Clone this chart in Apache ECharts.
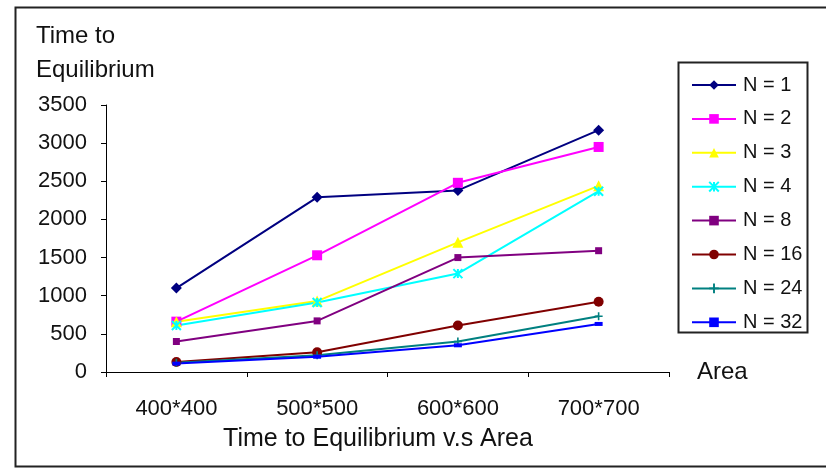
<!DOCTYPE html>
<html>
<head>
<meta charset="utf-8">
<script src="https://cdn.jsdelivr.net/npm/echarts@6/dist/echarts.min.js"></script>
<style>
  html, body { margin: 0; padding: 0; background: #fff; }
  #chart { width: 826px; height: 470px; }
</style>
</head>
<body>
<div id="chart"></div>
<script>
// Grid sizes (categories along the x axis)
const areas = ['400*400', '500*500', '600*600', '700*700'];

// Time to equilibrium for each number of agents N
const n1  = [1100, 2290, 2380, 3170];
const n2  = [660, 1530, 2480, 2950];
const n3  = [660, 930, 1700, 2440];
const n4  = [610, 910, 1290, 2370];
const n8  = [400, 670, 1500, 1590];
const n16 = [130, 260, 610, 920];
const n24 = [120, 220, 400, 730];
const n32 = [110, 200, 350, 630];

const yTicks = { min: 0, max: 3500, step: 500 };

const FONT = '"Liberation Sans", Arial, sans-serif';

const starPath = 'path://M0,0 L10,10 M10,0 L0,10 M5,0 L5,10';
const plusPath = 'path://M4,0 H6 V4 H10 V6 H6 V10 H4 V6 H0 V4 H4 Z';
const dashPath = 'path://M0,0 H10 V4 H0 Z';

const seriesDefs = [
  { name: 'N = 1',  data: n1,  color: '#000080', symbol: 'diamond', size: 11 },
  { name: 'N = 2',  data: n2,  color: '#ff00ff', symbol: 'rect', size: 10 },
  { name: 'N = 3',  data: n3,  color: '#ffff00', symbol: 'triangle', size: 11 },
  { name: 'N = 4',  data: n4,  color: '#00ffff', symbol: starPath, size: 9 },
  { name: 'N = 8',  data: n8,  color: '#800080', symbol: 'rect', size: 7 },
  { name: 'N = 16', data: n16, color: '#800000', symbol: 'circle', size: 10 },
  { name: 'N = 24', data: n24, color: '#008080', symbol: plusPath, size: 8 },
  { name: 'N = 32', data: n32, color: '#0000ff', symbol: dashPath, size: [8, 4] }
];

const chart = echarts.init(document.getElementById('chart'));

chart.setOption({
  animation: false,
  backgroundColor: '#fff',
  textStyle: { fontFamily: FONT },
  grid: { left: 106, right: 157, top: 105, bottom: 98 },
  xAxis: {
    type: 'category',
    data: areas,
    boundaryGap: true,
    axisLine: { lineStyle: { color: '#000', width: 1 } },
    axisTick: { show: true, length: 5, inside: false, lineStyle: { color: '#000' } },
    axisLabel: { color: '#111', fontSize: 22, fontFamily: FONT, margin: 26 },
    splitLine: { show: false }
  },
  yAxis: {
    type: 'value',
    min: yTicks.min,
    max: yTicks.max,
    interval: yTicks.step,
    axisLine: { show: true, lineStyle: { color: '#000', width: 1 } },
    axisTick: { show: true, length: 5, lineStyle: { color: '#000' } },
    axisLabel: { color: '#111', fontSize: 22, fontFamily: FONT, margin: 19, formatter: v => String(v) },
    splitLine: { show: false }
  },
  legend: {
    orient: 'vertical',
    left: 686,
    top: 70,
    itemWidth: 44,
    itemHeight: 12,
    itemGap: 13.9,
    textStyle: { fontSize: 20, color: '#111', fontFamily: FONT, padding: [0, 0, 0, 2] },
    data: seriesDefs.map(s => s.name)
  },
  series: seriesDefs.map(s => ({
    name: s.name,
    type: 'line',
    data: s.data,
    symbol: s.symbol,
    symbolSize: s.size,
    showAllSymbol: true,
    lineStyle: { color: s.color, width: 2 },
    itemStyle: { color: s.color, borderColor: s.color, borderWidth: s.symbol === starPath ? 2 : 0 },
    emphasis: { disabled: true }
  })),
  graphic: [
    {
      type: 'rect',
      shape: { x: 15.5, y: 7.5, width: 830, height: 459 },
      style: { fill: 'none', stroke: '#222', lineWidth: 2 },
      silent: true
    },
    {
      type: 'rect',
      shape: { x: 678.5, y: 62.5, width: 129, height: 270 },
      style: { fill: 'none', stroke: '#222', lineWidth: 2 },
      silent: true
    },
    {
      type: 'text', x: 36, y: 36,
      style: { text: 'Time to', font: '24px ' + FONT, fill: '#111', textVerticalAlign: 'middle' }
    },
    {
      type: 'text', x: 36, y: 70,
      style: { text: 'Equilibrium', font: '24px ' + FONT, fill: '#111', textVerticalAlign: 'middle' }
    },
    {
      type: 'text', x: 697, y: 372,
      style: { text: 'Area', font: '24px ' + FONT, fill: '#111', textVerticalAlign: 'middle' }
    },
    {
      type: 'text', x: 378, y: 439,
      style: { text: 'Time to Equilibrium v.s Area', font: '25px ' + FONT, fill: '#111',
               textAlign: 'center', textVerticalAlign: 'middle' }
    }
  ]
});
</script>
</body>
</html>
